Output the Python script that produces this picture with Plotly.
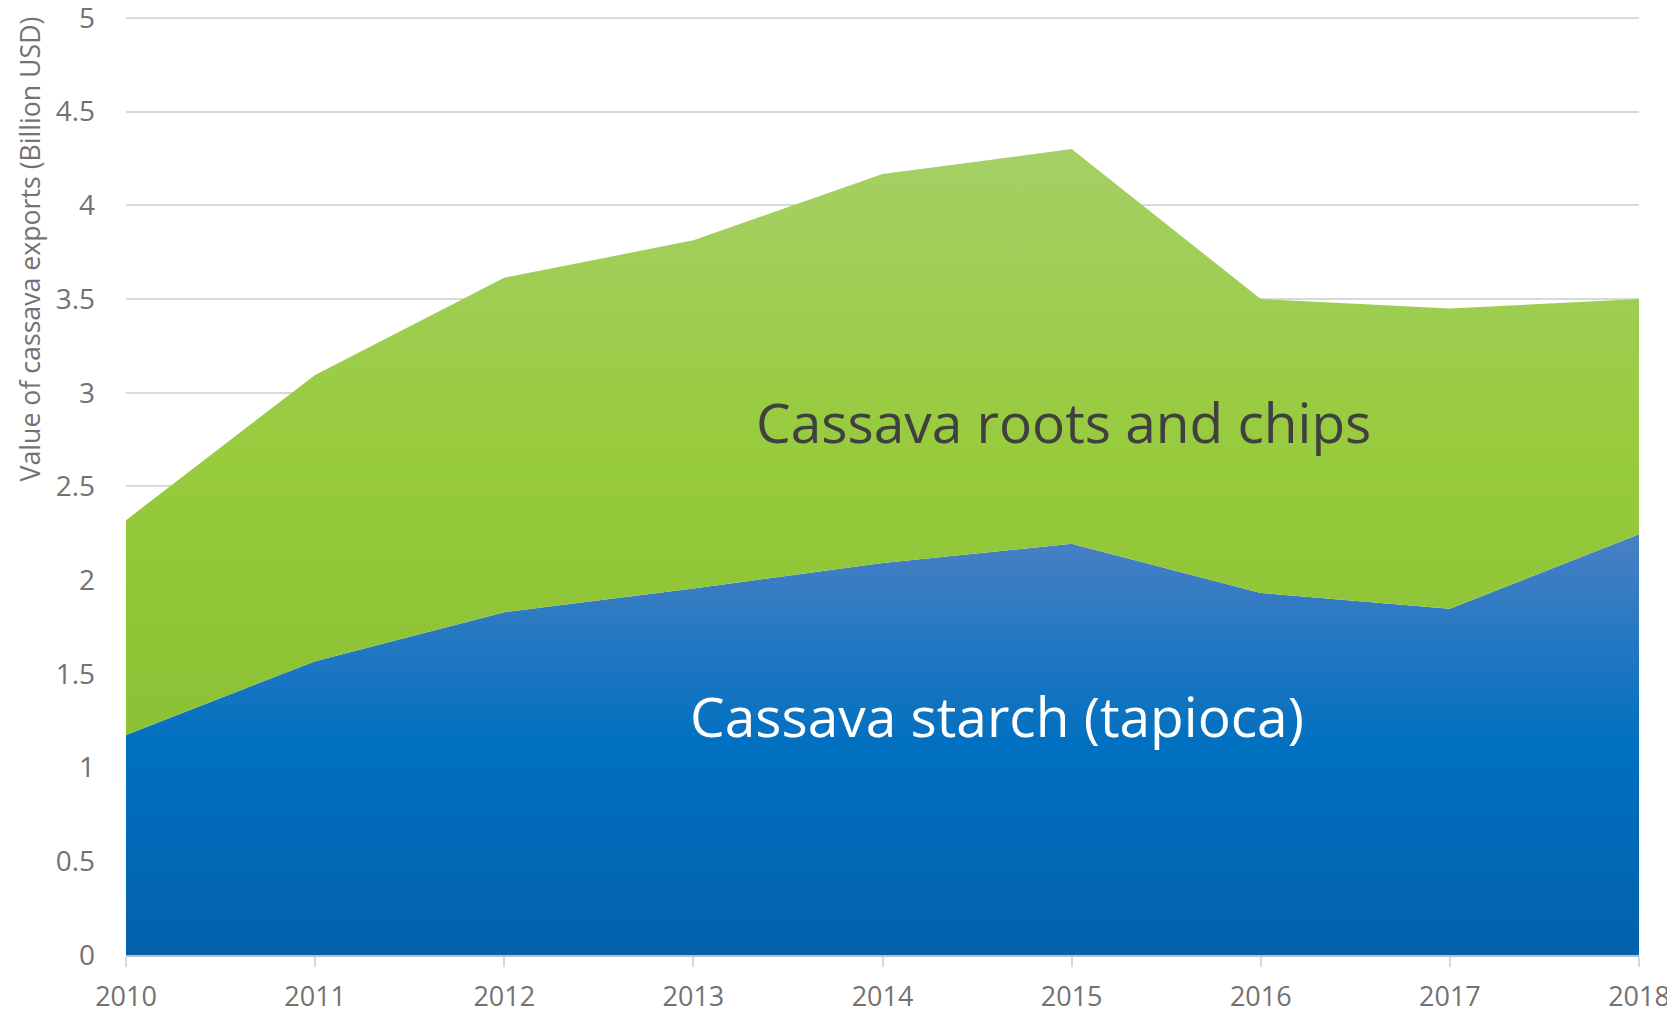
import plotly.graph_objects as go

years = [2010, 2011, 2012, 2013, 2014, 2015, 2016, 2017, 2018]
starch = [1.174, 1.567, 1.829, 1.955, 2.092, 2.194, 1.932, 1.847, 2.245]
roots_chips = [1.146, 1.528, 1.785, 1.858, 2.075, 2.106, 1.568, 1.602, 1.255]
y_ticks = [0, 0.5, 1, 1.5, 2, 2.5, 3, 3.5, 4, 4.5, 5]
y_tick_labels = ["0", "0.5", "1", "1.5", "2", "2.5", "3", "3.5", "4", "4.5", "5"]

totals = [s + r for s, r in zip(starch, roots_chips)]

fig = go.Figure()
fig.add_trace(go.Scatter(
    x=years, y=starch, mode="lines", line=dict(width=0, color="#0070c0"),
    fill="tozeroy",
    fillgradient=dict(type="vertical", start=0, stop=max(starch),
                      colorscale=[[0, "#0461ac"], [0.5, "#0070c0"], [1, "#4a80c4"]]),
    name="Cassava starch (tapioca)", showlegend=False, hoverinfo="skip"))
fig.add_trace(go.Scatter(
    x=years, y=totals, mode="lines", line=dict(width=0, color="#92c83e"),
    fill="tonexty",
    fillgradient=dict(type="vertical", start=min(starch), stop=max(totals),
                      colorscale=[[0, "#8bc134"], [0.5, "#98cb3e"], [1, "#a5d066"]]),
    name="Cassava roots and chips", showlegend=False, hoverinfo="skip"))

fig.add_annotation(x=2014.955, y=2.845, text="Cassava roots and chips", showarrow=False,
                   font=dict(family="Open Sans", size=55, color="#404040"))
fig.add_annotation(x=2014.603, y=1.28, text="Cassava starch (tapioca)", showarrow=False,
                   font=dict(family="Open Sans", size=55, color="#ffffff"))
fig.add_annotation(xref="paper", yref="paper", x=-0.0635, xanchor="center",
                   y=1, yanchor="top", yshift=2,
                   text="Value of cassava exports (Billion USD)", textangle=-90,
                   showarrow=False, font=dict(family="Open Sans", size=26.7, color="#767171"))

# the page body adds an 8px offset, so the figure is 8px smaller on each axis
fig.update_layout(
    width=1667, height=1003,
    margin=dict(l=118, r=36, t=8, b=56),
    paper_bgcolor="white", plot_bgcolor="white",
    font=dict(family="Open Sans", color="#767171"),
    xaxis=dict(range=[2010, 2018], tickmode="array", tickvals=years,
               ticktext=[str(y) for y in years], automargin=False,
               showgrid=False, zeroline=False,
               showline=True, linecolor="#bfbfbf", linewidth=2,
               ticks="outside", ticklen=10, tickcolor="#d9d9d9", tickwidth=2,
               ticklabelstandoff=7, ticklabeloverflow="allow",
               tickfont=dict(size=27, color="#767171")),
    yaxis=dict(range=[0, 5.01], tickmode="array", tickvals=y_ticks, ticktext=y_tick_labels,
               automargin=False,
               showgrid=True, gridcolor="#d9d9d9", gridwidth=1.5, zeroline=False,
               showline=False, ticks="", ticklabelstandoff=30, ticklabeloverflow="allow",
               tickfont=dict(size=28, color="#767171")),
)

fig.write_html("out.html")
